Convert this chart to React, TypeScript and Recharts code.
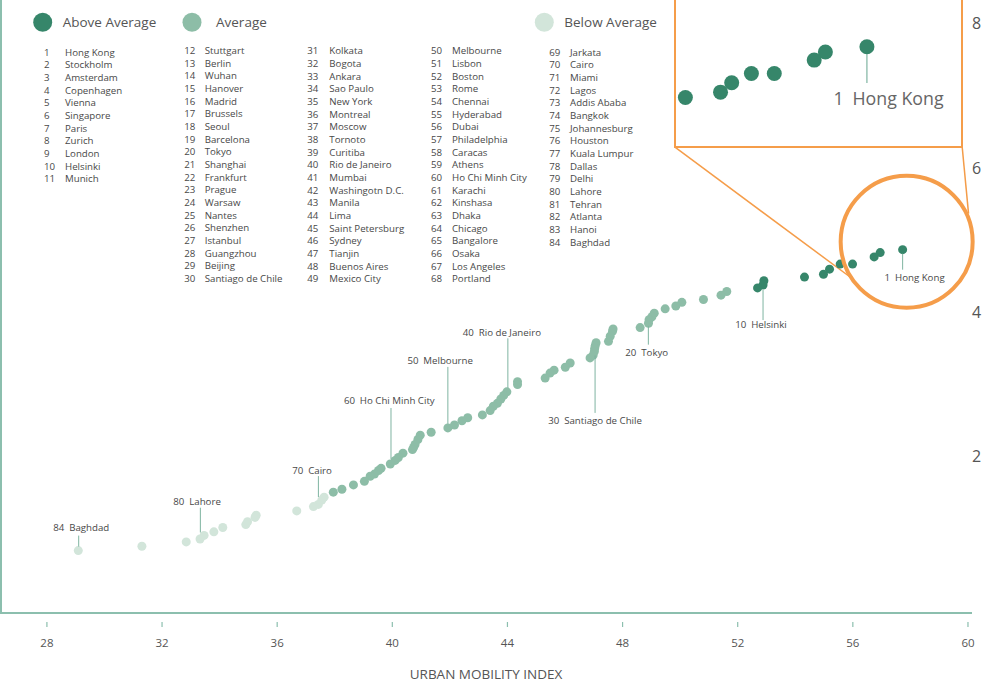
import React from "react";
import {
  ScatterChart,
  Scatter,
  XAxis,
  YAxis,
  ReferenceLine,
  ReferenceDot,
} from "recharts";

// ranked cities, 1 = best urban mobility
const cities = [
  "Hong Kong", "Stockholm", "Amsterdam", "Copenhagen", "Vienna", "Singapore", "Paris", "Zurich", "London", "Helsinki",
  "Munich", "Stuttgart", "Berlin", "Wuhan", "Hanover", "Madrid", "Brussels", "Seoul", "Barcelona", "Tokyo",
  "Shanghai", "Frankfurt", "Prague", "Warsaw", "Nantes", "Shenzhen", "Istanbul", "Guangzhou", "Beijing", "Santiago de Chile",
  "Kolkata", "Bogota", "Ankara", "Sao Paulo", "New York", "Montreal", "Moscow", "Tornoto", "Curitiba", "Rio de Janeiro",
  "Mumbai", "Washingotn D.C.", "Manila", "Lima", "Saint Petersburg", "Sydney", "Tianjin", "Buenos Aires", "Mexico City", "Melbourne",
  "Lisbon", "Boston", "Rome", "Chennai", "Hyderabad", "Dubai", "Philadelphia", "Caracas", "Athens", "Ho Chi Minh City",
  "Karachi", "Kinshasa", "Dhaka", "Chicago", "Bangalore", "Osaka", "Los Angeles", "Portland", "Jarkata", "Cairo",
  "Miami", "Lagos", "Addis Ababa", "Bangkok", "Johannesburg", "Houston", "Kuala Lumpur", "Dallas", "Delhi", "Lahore",
  "Tehran", "Atlanta", "Hanoi", "Baghdad",
];

const mobilityIndex = [
  57.73, 56.95, 56.74, 55.99, 55.56, 55.19, 54.98, 54.32, 52.91, 52.88,
  52.69, 51.62, 51.42, 50.81, 50.06, 49.85, 49.48, 49.1, 49.02, 48.92,
  48.9, 48.61, 47.67, 47.65, 47.57, 47.51, 47.08, 47.05, 47.03, 47.02,
  46.98, 46.87, 46.18, 46.01, 45.62, 45.48, 45.31, 44.35, 44.35, 43.98,
  43.87, 43.77, 43.65, 43.51, 43.4, 43.13, 42.62, 42.42, 42.16, 41.93,
  41.35, 40.97, 40.89, 40.79, 40.74, 40.7, 40.37, 40.21, 40.1, 39.93,
  39.61, 39.52, 39.38, 39.23, 39.03, 38.65, 38.25, 37.95, 37.63, 37.55,
  37.43, 37.26, 36.68, 35.27, 35.23, 34.97, 34.91, 34.11, 33.8, 33.46,
  33.32, 32.84, 31.3, 29.09,
];

const scores = [
  4.87, 4.83, 4.77, 4.67, 4.67, 4.6, 4.53, 4.49, 4.44, 4.38,
  4.34, 4.29, 4.24, 4.18, 4.14, 4.09, 4.05, 3.99, 3.94, 3.9,
  3.85, 3.79, 3.77, 3.74, 3.67, 3.6, 3.58, 3.54, 3.5, 3.46,
  3.41, 3.37, 3.3, 3.24, 3.2, 3.16, 3.09, 3.04, 3.0, 2.9,
  2.85, 2.8, 2.74, 2.7, 2.64, 2.58, 2.54, 2.5, 2.44, 2.4,
  2.34, 2.3, 2.24, 2.17, 2.13, 2.1, 2.05, 1.99, 1.95, 1.9,
  1.84, 1.81, 1.76, 1.73, 1.66, 1.61, 1.55, 1.51, 1.44, 1.4,
  1.34, 1.31, 1.25, 1.19, 1.16, 1.1, 1.06, 1.02, 0.96, 0.91,
  0.86, 0.82, 0.76, 0.7,
];

const tiers = ["Above Average", "Average", "Below Average"];
const tierLastRank = [11, 68, 84];

const xTicks = [28, 32, 36, 40, 44, 48, 52, 56, 60];
const yTicks = [2, 4, 6, 8];

const calloutRanks = [1, 10, 20, 30, 40, 50, 60, 70, 80, 84];
const insetCount = 8;

const COLORS = ["#36866a", "#8dbda7", "#d2e5da"];
const AXIS = "#8cbfae";
const LEADER = "#7fb4a1";
const ORANGE = "#f59d4a";
const ORANGE_2 = "#f49c48"; // second connector, kept distinct from the first
const TEXT = "#484848";
const FONT = "'Open Sans', sans-serif";

const X_DOMAIN: [number, number] = [26.37, 60.14];
const Y_DOMAIN: [number, number] = [-0.165, 8.33];
const INSET_X: [number, number] = [54.125, 59.516];
const INSET_Y: [number, number] = [4.119, 5.22];

const points = cities.map((name, i) => ({
  rank: i + 1,
  name,
  x: mobilityIndex[i],
  y: scores[i],
  tier: tierLastRank.findIndex((last) => i + 1 <= last),
}));

// leader line / label offsets relative to the dot, in px
const calloutLayout: Record<number, { dx: number; y1: number; y2: number; ty: number; tdx: number }> = {
  1: { dx: 0, y1: 4, y2: 20, ty: 31, tdx: 12 },
  10: { dx: 0, y1: 5, y2: 35, ty: 43, tdx: -2 },
  20: { dx: -0.7, y1: 6.5, y2: 25, ty: 36, tdx: -2.3 },
  30: { dx: 0.7, y1: 4, y2: 61.5, ty: 73, tdx: 0.7 },
  40: { dx: 1, y1: -53.5, y2: -4, ty: -56, tdx: -5 },
  50: { dx: 0, y1: -61, y2: -4, ty: -64, tdx: -7.7 },
  60: { dx: 0.7, y1: -56, y2: -5, ty: -60, tdx: -1 },
  70: { dx: -3.4, y1: -24, y2: -3, ty: -26.5, tdx: -9.7 },
  80: { dx: -3.7, y1: -27.7, y2: -3, ty: -30.5, tdx: -7 },
  84: { dx: 0.4, y1: -15, y2: -4, ty: -20, tdx: 3 },
};

const listColumns = [
  { from: 1, to: 11, numX: 44, nameX: 65, y: 52.3 },
  { from: 12, to: 30, numX: 184.3, nameX: 204.7, y: 50.7 },
  { from: 31, to: 49, numX: 307.3, nameX: 329.3, y: 51 },
  { from: 50, to: 68, numX: 431, nameX: 452, y: 51 },
  { from: 69, to: 84, numX: 549.3, nameX: 570, y: 52.3 },
];
const legendSlots = [
  { cx: 42.7, tx: 62.7 },
  { cx: 192, tx: 216 },
  { cx: 544.3, tx: 564.3 },
];

const XTick = ({ x, y, payload }: any) => (
  <g>
    <line x1={x} x2={x} y1={y + 9} y2={y + 14} stroke={AXIS} strokeWidth={1.2} />
    <text x={x} y={y + 34} textAnchor="middle" fontSize={11.5} fill="#555" fontFamily={FONT}>
      {payload.value}
    </text>
  </g>
);

const YTick = ({ x, y, payload }: any) => (
  <text x={x} y={y + 5.5} textAnchor="start" fontSize={16} fill="#555" fontFamily={FONT}>
    {payload.value}
  </text>
);

const Callout = ({ cx, cy, payload }: any) => {
  const c = calloutLayout[payload.rank];
  if (!c) return <g />;
  return (
    <g>
      <line x1={cx + c.dx} x2={cx + c.dx} y1={cy + c.y1} y2={cy + c.y2} stroke={LEADER} strokeWidth={1} />
      <text x={cx + c.tdx} y={cy + c.ty} textAnchor="middle" fontSize={9.7} fill={TEXT} fontFamily={FONT}>
        {`${payload.rank}\u2002${payload.name}`}
      </text>
    </g>
  );
};

const LegendAndList = () => (
  <svg width={670} height={290} style={{ position: "absolute", left: 0, top: 0 }}>
    {tiers.map((t, i) => (
      <g key={t}>
        <circle cx={legendSlots[i].cx} cy={22.3} r={9.5} fill={COLORS[i]} />
        <text x={legendSlots[i].tx} y={27} fontSize={13.5} fill="#555" fontFamily={FONT}>
          {t}
        </text>
      </g>
    ))}
    {listColumns.map((col) =>
      points
        .filter((p) => p.rank >= col.from && p.rank <= col.to)
        .map((p, row) => (
          <g key={p.rank}>
            <text x={col.numX} y={col.y + 3.4 + row * 12.66} fontSize={9.7} fill={TEXT} fontFamily={FONT}>
              {p.rank}
            </text>
            <text x={col.nameX} y={col.y + 3.4 + row * 12.66} fontSize={9.7} fill={TEXT} fontFamily={FONT}>
              {p.name}
            </text>
          </g>
        ))
    )}
  </svg>
);

const Inset = () => {
  const data = points.slice(0, insetCount);
  return (
    <>
      <div style={{ position: "absolute", left: 675, top: 0 }}>
        <ScatterChart width={287} height={147} margin={{ top: 0, right: 0, bottom: 0, left: 0 }}>
          <XAxis type="number" dataKey="x" domain={INSET_X} hide allowDataOverflow />
          <YAxis type="number" dataKey="y" domain={INSET_Y} hide allowDataOverflow />
          <Scatter
            data={data}
            isAnimationActive={false}
            shape={(p: any) => <circle cx={p.cx} cy={p.cy} r={7.5} fill={COLORS[0]} />}
          />
          <Scatter
            data={data.slice(0, 1)}
            isAnimationActive={false}
            shape={(p: any) => (
              <g>
                <line x1={p.cx} x2={p.cx} y1={p.cy + 7.3} y2={p.cy + 36.3} stroke={LEADER} strokeWidth={1.2} />
                <text x={p.cx + 21.6} y={p.cy + 58} textAnchor="middle" fontSize={17.8} fill="#666" fontFamily={FONT}>
                  {`${p.payload.rank}\u2002${p.payload.name}`}
                </text>
              </g>
            )}
          />
        </ScatterChart>
      </div>
      <div
        style={{
          position: "absolute",
          left: 674,
          top: -3,
          width: 289,
          height: 151,
          border: `2px solid ${ORANGE}`,
          boxSizing: "border-box",
          pointerEvents: "none",
        }}
      />
    </>
  );
};

export default function App() {
  return (
    <div
      style={{
        position: "absolute",
        left: 0,
        top: 0,
        width: 986,
        height: 685,
        background: "#fff",
        overflow: "hidden",
        fontFamily: FONT,
      }}
    >
      <ScatterChart width={986} height={685} margin={{ top: 0, right: 0, bottom: 0, left: 0 }}>
        <XAxis
          type="number"
          dataKey="x"
          domain={X_DOMAIN}
          ticks={xTicks}
          height={72}
          axisLine={{ stroke: AXIS, strokeWidth: 2 }}
          tickLine={false}
          tickSize={0}
          tickMargin={0}
          tick={<XTick />}
          label={{
            value: "URBAN MOBILITY INDEX",
            position: "insideBottom",
            offset: 6,
            fill: "#555",
            fontSize: 13.5,
          }}
        />
        <YAxis
          type="number"
          dataKey="y"
          orientation="right"
          domain={Y_DOMAIN}
          ticks={yTicks}
          width={14}
          axisLine={false}
          tickLine={false}
          tickSize={0}
          tickMargin={0}
          tick={<YTick />}
        />
        {tiers.map((t, i) => (
          <Scatter
            key={t}
            name={t}
            data={points.filter((p) => p.tier === i)}
            isAnimationActive={false}
            shape={(p: any) => <circle cx={p.cx} cy={p.cy} r={4.5} fill={COLORS[i]} />}
          />
        ))}
        <Scatter
          name="callouts"
          data={points.filter((p) => calloutRanks.includes(p.rank))}
          isAnimationActive={false}
          shape={<Callout />}
        />
        <ReferenceDot x={57.87} y={4.98} r={66} fill="none" stroke={ORANGE} strokeWidth={4} ifOverflow="visible" />
        <ReferenceLine
          segment={[{ x: 49.82, y: 6.29 }, { x: 56.01, y: 4.46 }]}
          stroke={ORANGE}
          strokeWidth={1.5}
          ifOverflow="visible"
        />
        <ReferenceLine
          segment={[{ x: 59.8, y: 6.29 }, { x: 60.02, y: 5.37 }]}
          stroke={ORANGE_2}
          strokeWidth={1.5}
          ifOverflow="visible"
        />
      </ScatterChart>
      {/* left frame line of the plot */}
      <div style={{ position: "absolute", left: 0, top: 0, width: 2, height: 614, background: AXIS }} />
      <LegendAndList />
      <Inset />
    </div>
  );
}
